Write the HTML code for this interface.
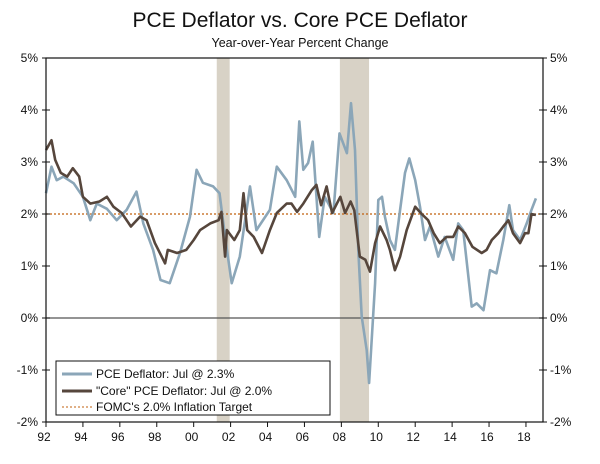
<!DOCTYPE html>
<html><head><meta charset="utf-8"><style>
body{margin:0;background:#fff;}
svg text{font-family:"Liberation Sans",sans-serif;}
</style></head><body>
<svg id="chart" width="600" height="459" viewBox="0 0 600 459" xmlns="http://www.w3.org/2000/svg">
<rect width="600" height="459" fill="#fff"/>
<text x="300" y="27" text-anchor="middle" font-size="21" fill="#111">PCE Deflator vs. Core PCE Deflator</text>
<text x="300" y="47" text-anchor="middle" font-size="12.5" fill="#111">Year-over-Year Percent Change</text>
<g id="recessions"></g>
<g id="grid"></g>
<g id="series"></g>
<g id="axes"></g>
<g id="legend">
<rect x="56" y="361" width="274" height="54" fill="#fff" stroke="#111" stroke-width="1"/>
<line x1="62" y1="374" x2="92" y2="374" stroke="#8ba6b8" stroke-width="3"/>
<text x="96" y="378" font-size="12" fill="#111">PCE Deflator: Jul @ 2.3%</text>
<line x1="62" y1="391" x2="92" y2="391" stroke="#56463c" stroke-width="3"/>
<text x="96" y="395" font-size="12" fill="#111">"Core" PCE Deflator: Jul @ 2.0%</text>
<line x1="62" y1="407" x2="92" y2="407" stroke="#c0600f" stroke-width="1" stroke-dasharray="2,2"/>
<text x="96" y="411" font-size="12" fill="#111">FOMC's 2.0% Inflation Target</text>
</g>
</svg>
<script>
const yTicks=[5,4,3,2,1,0,-1,-2];
const xTickYears=[1992,1994,1996,1998,2000,2002,2004,2006,2008,2010,2012,2014,2016,2018];
const xTickLabels=["92","94","96","98","00","02","04","06","08","10","12","14","16","18"];
const recStart=[2001.25,2007.92];
const recEnd=[2001.95,2009.5];
const target=[2.0];
const pceYears=[1992.0,1992.3,1992.58,1992.94,1993.5,1994.0,1994.4,1994.75,1995.3,1995.83,1996.37,1996.9,1997.27,1997.8,1998.2,1998.7,1999.26,1999.8,2000.16,2000.5,2001.05,2001.4,2001.7,2002.06,2002.5,2003.05,2003.4,2004.13,2004.5,2005.04,2005.5,2005.72,2005.94,2006.2,2006.45,2006.8,2007.1,2007.57,2007.9,2008.3,2008.52,2008.74,2008.92,2009.1,2009.37,2009.5,2009.83,2010.0,2010.2,2010.36,2010.63,2010.9,2011.18,2011.45,2011.68,2012.0,2012.26,2012.53,2012.8,2013.25,2013.6,2014.06,2014.33,2014.6,2015.06,2015.33,2015.7,2016.05,2016.4,2016.77,2017.1,2017.3,2017.68,2018.04,2018.3,2018.54];
const pceVals=[2.40,2.91,2.65,2.72,2.59,2.33,1.88,2.2,2.1,1.88,2.08,2.43,1.82,1.31,0.73,0.67,1.25,1.95,2.85,2.6,2.53,2.4,1.56,0.67,1.18,2.53,1.69,2.08,2.91,2.65,2.33,3.78,2.85,2.98,3.39,1.56,2.33,2.02,3.55,3.17,4.13,3.23,1.31,0.03,-0.62,-1.25,0.67,2.27,2.33,1.95,1.5,1.31,2.08,2.79,3.07,2.65,2.14,1.5,1.76,1.18,1.56,1.12,1.82,1.69,0.22,0.28,0.15,0.92,0.86,1.5,2.17,1.69,1.5,1.82,2.08,2.3];
const coreYears=[1992.0,1992.3,1992.5,1992.8,1993.15,1993.45,1993.8,1994.0,1994.4,1994.9,1995.3,1995.65,1996.1,1996.6,1997.1,1997.45,1997.9,1998.45,1998.6,1999.1,1999.6,2000.0,2000.35,2000.9,2001.35,2001.5,2001.7,2001.8,2002.2,2002.5,2002.7,2002.9,2003.25,2003.7,2004.13,2004.5,2005.04,2005.3,2005.6,2005.94,2006.4,2006.65,2006.9,2007.2,2007.5,2007.94,2008.2,2008.5,2008.7,2009.0,2009.3,2009.55,2009.83,2010.1,2010.45,2010.63,2010.9,2011.18,2011.54,2012.0,2012.35,2012.7,2013.0,2013.33,2013.7,2014.06,2014.33,2014.7,2015.1,2015.6,2015.87,2016.15,2016.5,2016.77,2017.05,2017.3,2017.68,2017.95,2018.13,2018.3,2018.54];
const coreVals=[3.23,3.42,3.04,2.79,2.72,2.88,2.72,2.33,2.2,2.24,2.33,2.14,2.02,1.76,1.95,1.88,1.44,1.05,1.31,1.25,1.31,1.5,1.69,1.82,1.88,2.04,1.18,1.69,1.5,1.69,2.4,1.69,1.56,1.25,1.69,2.02,2.2,2.2,2.04,2.2,2.46,2.56,2.17,2.53,2.02,2.33,2.02,2.24,2.07,1.18,1.12,0.89,1.44,1.76,1.5,1.31,0.92,1.18,1.69,2.14,2.0,1.88,1.63,1.44,1.56,1.56,1.76,1.63,1.37,1.25,1.31,1.5,1.63,1.76,1.88,1.63,1.44,1.63,1.63,2.0,1.98];

const L=46,R=543,T=58,B=422;
const xs=y=>L+(y-1992)*18.46;
const ys=v=>318-v*52;
const NS='http://www.w3.org/2000/svg';
function mk(tag,attrs,parent){const e=document.createElementNS(NS,tag);for(const k in attrs)e.setAttribute(k,attrs[k]);parent.appendChild(e);return e;}
const rec=document.getElementById('recessions');
for(let i=0;i<recStart.length;i++){
 const r=mk('rect',{x:xs(recStart[i]),y:T,width:xs(recEnd[i])-xs(recStart[i]),height:B-T,fill:'#d8d2c6'},rec);
 
 
}
const grid=document.getElementById('grid');
const zl=mk('line',{x1:L,x2:R,y1:ys(0),y2:ys(0),stroke:'#555','stroke-width':1.3},grid);


const tl=mk('line',{x1:L,x2:R,y1:ys(target[0]),y2:ys(target[0]),stroke:'#c0600f','stroke-width':1.2,'stroke-dasharray':'2,2'},grid);


const ser=document.getElementById('series');
function path(xa,va,color,name){
 let d='';for(let i=0;i<xa.length;i++)d+=(i?'L':'M')+xs(xa[i]).toFixed(1)+','+ys(va[i]).toFixed(1);
 const p=mk('path',{d:d,fill:'none',stroke:color,'stroke-width':2.6,'stroke-linejoin':'round'},ser);
 
 
}
path(pceYears,pceVals,'#8ba6b8','pce-deflator-line');
path(coreYears,coreVals,'#56463c','core-pce-deflator-line');
const ax=document.getElementById('axes');
mk('rect',{x:L,y:T,width:R-L,height:B-T,fill:'none',stroke:'#111','stroke-width':1.2},ax);
yTicks.forEach(v=>{
 const y=ys(v);
 mk('line',{x1:L-4,x2:L+4,y1:y,y2:y,stroke:'#111'},ax);
 mk('line',{x1:R-4,x2:R+4,y1:y,y2:y,stroke:'#111'},ax);
 const t1=mk('text',{x:L-8,y:y+4,'text-anchor':'end','font-size':12,fill:'#111'},ax);t1.textContent=v+'%';
 
 
 const t2=mk('text',{x:R+7,y:y+4,'font-size':12,fill:'#111'},ax);t2.textContent=v+'%';
 
 
});
xTickYears.forEach((yr,i)=>{
 const x=xs(yr);
 mk('line',{x1:x,x2:x,y1:B,y2:B+5,stroke:'#111'},ax);
 const t=mk('text',{x:x-2,y:B+19,'text-anchor':'middle','font-size':12,fill:'#111'},ax);t.textContent=xTickLabels[i];
 
 
});
</script>
</body></html>
